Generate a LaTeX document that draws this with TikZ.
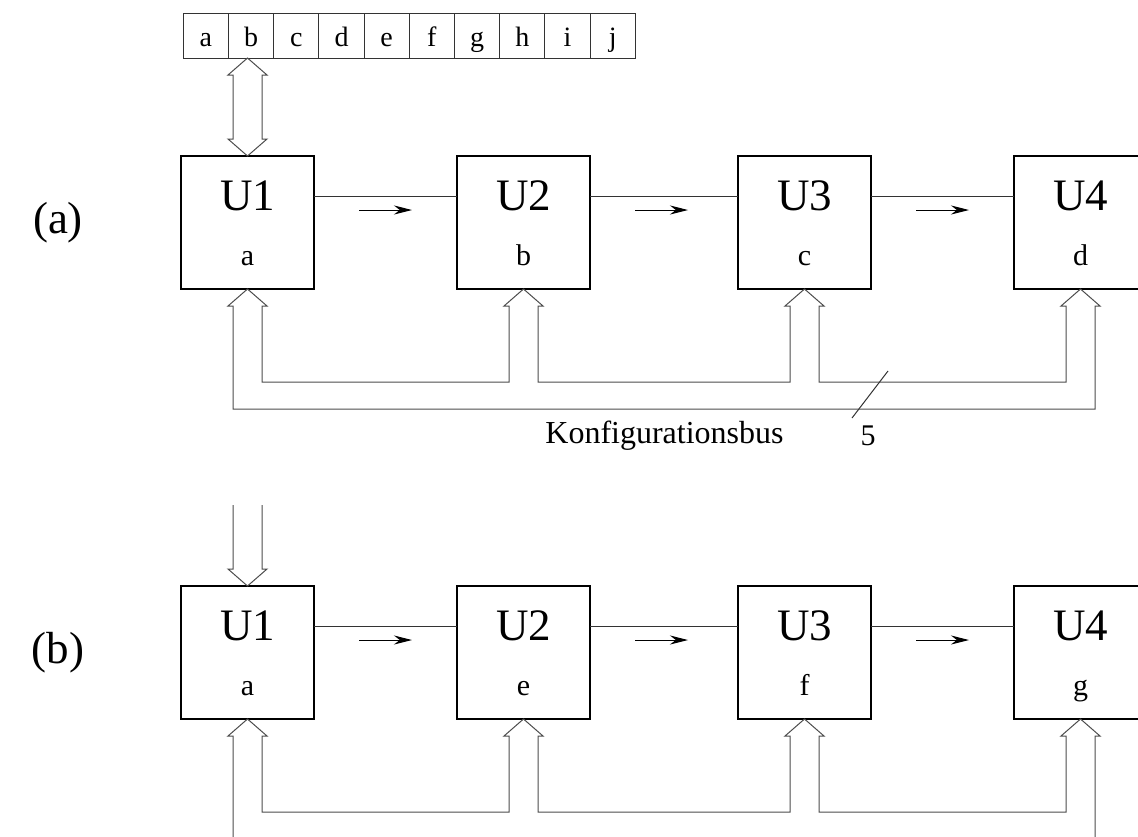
\documentclass[tikz,border=0pt]{standalone}
\usepackage{fontspec}
\setmainfont{Liberation Serif}
\usetikzlibrary{calc,arrows.meta}

\tikzset{
  unit/.style={draw=black, line width=1.3pt, minimum width=133pt, minimum height=133pt,
               inner sep=0pt, outer sep=0pt},
  cell/.style={draw=black!80, line width=0.9pt, minimum width=45.2pt, minimum height=45pt,
               inner sep=0pt, outer sep=0pt, font=\fontsize{28}{30}\selectfont,
               text height=21pt, text depth=0pt},
  biglabel/.style={font=\fontsize{45}{48}\selectfont, inner sep=0pt, anchor=base},
  smalllabel/.style={font=\fontsize{30}{32}\selectfont, inner sep=0pt, anchor=base},
  wire/.style={draw=black!80, line width=1pt},
  flow/.style={draw=black, line width=1pt, -{Stealth[length=18pt,width=9pt]}},
  bus/.style={draw=black!70, line width=1pt, line join=miter},
  % hollow bus arrowhead entering a unit from below
  busin/.style={insert path={
      -- ($(#1.south)+(-14.5,17)$) -- ($(#1.south)+(-19.5,17)$) -- (#1.south)
      -- ($(#1.south)+(19.5,17)$) -- ($(#1.south)+(14.5,17)$)}},
}

\begin{document}
\begin{tikzpicture}[x=1pt,y=-1pt]
  \useasboundingbox (0,0) rectangle (1138,836);
  \clip (0,0) rectangle (1138,836);

  % configuration register
  \foreach \ch [count=\i] in {a,b,c,d,e,f,g,h,i,j}
    \node[cell] (R\i) at ({183.3+45.2*(\i-0.5)},35.5) {\ch};

  % the two processing chains
  \foreach \r/\dy/\la/\lb/\lc/\ld in {a/0/a/b/c/d, b/430/a/e/f/g} {
    \node[biglabel] (lab\r) at (58,233+\dy) {(\r)};
    \node[unit] (U1\r) at (247.5,222.5+\dy) {};
    \node[unit] (U2\r) at (523.5,222.5+\dy) {};
    \node[unit] (U3\r) at (804.5,222.5+\dy) {};
    \node[unit] (U4\r) at (1080.5,222.5+\dy) {};
    \foreach \k/\t in {1/\la,2/\lb,3/\lc,4/\ld} {
      \node[biglabel] (N\k\r) at ($(U\k\r.center)+(0,-12.5)$) {U\k};
      \node[smalllabel] (S\k\r) at ($(U\k\r.center)+(0,42.5)$) {\t};
    }
    \foreach \k/\m in {1/2,2/3,3/4} {
      \draw[wire] ($(U\k\r.east)+(0,-26.5)$) -- ($(U\m\r.west)+(0,-26.5)$);
      \draw[flow] ($(U\k\r.east)+(45,-12.5)$) -- ($(U\k\r.east)+(98,-12.5)$);
    }
    % configuration bus loop
    \draw[bus] ($(U1\r.south)+(-14.5,120)$) [busin=U1\r]
      -- ($(U1\r.south)+(14.5,93)$) -- ($(U2\r.south)+(-14.5,93)$) [busin=U2\r]
      -- ($(U2\r.south)+(14.5,93)$) -- ($(U3\r.south)+(-14.5,93)$) [busin=U3\r]
      -- ($(U3\r.south)+(14.5,93)$) -- ($(U4\r.south)+(-14.5,93)$) [busin=U4\r]
      -- ($(U4\r.south)+(14.5,120)$) -- cycle;
  }

  % double arrow between register and U1 in (a)
  \coordinate (regbot) at (U1a.north |- R2.south);
  \draw[bus] (regbot) -- ($(regbot)+(19.5,17)$) -- ($(regbot)+(14.5,17)$)
    -- ($(U1a.north)+(14.5,-17)$) -- ($(U1a.north)+(19.5,-17)$) -- (U1a.north)
    -- ($(U1a.north)+(-19.5,-17)$) -- ($(U1a.north)+(-14.5,-17)$)
    -- ($(regbot)+(-14.5,17)$) -- ($(regbot)+(-19.5,17)$) -- cycle;

  % input arrow into U1 in (b)
  \coordinate (inL) at ($(U1b.north)+(-14.5,-81)$);
  \coordinate (inR) at ($(U1b.north)+(14.5,-81)$);
  \draw[bus] (inL) -- ($(U1b.north)+(-14.5,-17)$) -- ($(U1b.north)+(-19.5,-17)$)
    -- (U1b.north) -- ($(U1b.north)+(19.5,-17)$) -- ($(U1b.north)+(14.5,-17)$) -- (inR);

  % bus width mark and label
  \coordinate (m1) at (852,418);
  \coordinate (m2) at (888,371);
  \draw[wire] (m1) -- (m2);
  \node[font=\fontsize{30}{34}\selectfont, inner sep=0pt, anchor=base] (width) at (868,445) {5};
  \node[font=\fontsize{32}{36}\selectfont, inner sep=0pt, anchor=base] (busname) at (664.5,443) {Konfigurationsbus};
\end{tikzpicture}
\end{document}
